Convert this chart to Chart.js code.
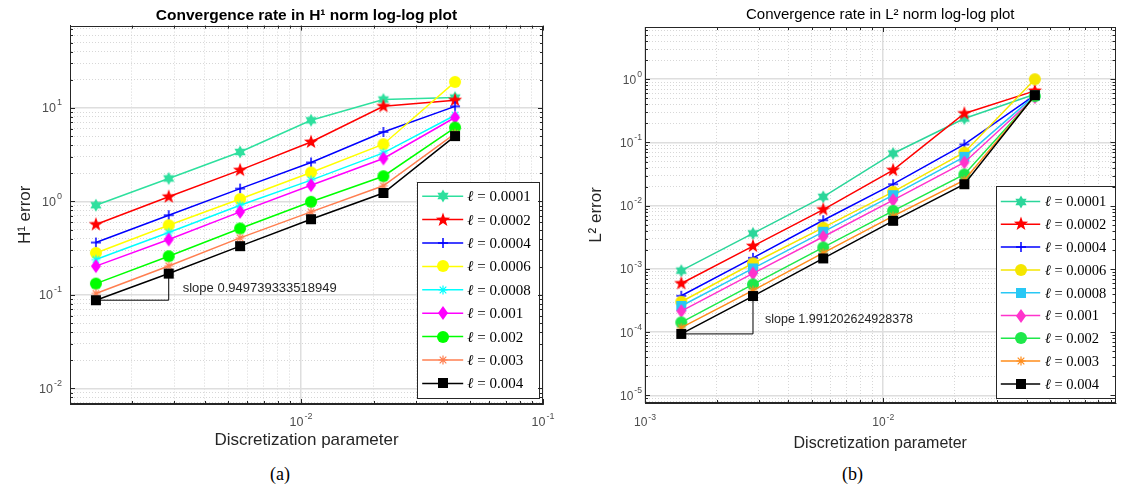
<!DOCTYPE html>
<html>
<head>
<meta charset="utf-8">
<script src="https://cdn.jsdelivr.net/npm/chart.js@4.4.0/dist/chart.umd.min.js"></script>
<style>
  body { margin: 0; background: #fff; width: 1122px; height: 490px; position: relative; overflow: hidden; }
  #wrapA { position: absolute; left: 0; top: 0; width: 560px; height: 460px; }
  #wrapB { position: absolute; left: 560px; top: 0; width: 562px; height: 460px; }
  .cap { position: absolute; top: 464px; font: 18px "Liberation Serif", serif; color: #000; }
</style>
</head>
<body>
<div id="wrapA"><canvas id="chartA" width="560" height="460"></canvas></div>
<div id="wrapB"><canvas id="chartB" width="562" height="460"></canvas></div>
<div class="cap" style="left:270px">(a)</div>
<div class="cap" style="left:842px">(b)</div>
<script>
// discretization parameter h (same for both plots)
var hVals = [0.00142, 0.00284, 0.0056, 0.011, 0.0219, 0.0433];
var ellLabels = ['0.0001', '0.0002', '0.0004', '0.0006', '0.0008', '0.001', '0.002', '0.003', '0.004'];

// H1 error, one array per ell
var h1E0001 = [0.91, 1.76, 3.38, 7.38, 12.3, 12.9];
var h1E0002 = [0.566, 1.12, 2.16, 4.32, 10.4, 12.1];
var h1E0004 = [0.363, 0.711, 1.37, 2.61, 5.53, 10.4];
var h1E0006 = [0.281, 0.556, 1.06, 2.04, 4.09, 19.0];
var h1E0008 = [0.239, 0.464, 0.91, 1.69, 3.3, 8.35];
var h1E001 = [0.203, 0.391, 0.773, 1.49, 2.88, 7.9];
var h1E002 = [0.132, 0.259, 0.513, 0.99, 1.86, 6.17];
var h1E003 = [0.1035, 0.204, 0.407, 0.773, 1.47, 5.32];
var h1E004 = [0.0877, 0.169, 0.332, 0.645, 1.23, 5.0];

// L2 error
var l2E0001 = [9.4e-4, 3.65e-3, 0.01383, 0.067, 0.239, 0.58];
var l2E0002 = [5.9e-4, 2.3e-3, 8.7e-3, 0.0365, 0.287, 0.654];
var l2E0004 = [3.77e-4, 1.5e-3, 5.9e-3, 0.0219, 0.093, 0.56];
var l2E0006 = [3.03e-4, 1.23e-3, 4.5e-3, 0.0166, 0.0695, 1.0];
var l2E0008 = [2.6e-4, 1.02e-3, 3.87e-3, 0.0147, 0.0593, 0.55];
var l2E001 = [2.16e-4, 8.5e-4, 3.23e-3, 0.01227, 0.0483, 0.52];
var l2E002 = [1.43e-4, 5.7e-4, 2.19e-3, 8.3e-3, 0.0312, 0.54];
var l2E003 = [1.18e-4, 4.6e-4, 1.8e-3, 6.85e-3, 0.0254, 0.55];
var l2E004 = [9.4e-5, 3.73e-4, 1.47e-3, 5.78e-3, 0.0219, 0.56];

var slopeA = '0.949739333518949';
var slopeB = '1.991202624928378';

var SANS = '"Liberation Sans", Arial, sans-serif';
var SERIF = '"Liberation Serif", "DejaVu Serif", serif';
Chart.defaults.font.family = SANS;

function isDecade(v) {
  var l = Math.log10(v);
  return Math.abs(l - Math.round(l)) < 1e-6;
}

// 1..9 x 10^n grid, no 1.5 ticks
function logTicks(scale) {
  var t = [];
  for (var e = Math.floor(Math.log10(scale.min)); e <= Math.ceil(Math.log10(scale.max)); e++) {
    for (var k = 1; k < 10; k++) {
      var v = k * Math.pow(10, e);
      if (v >= scale.min * 0.9999 && v <= scale.max * 1.0001) t.push({value: v, major: k === 1});
    }
  }
  scale.ticks = t;
}

// "10" with a raised exponent, y is the middle of "10"
function drawPow(ctx, v, x, y, fs, align) {
  var e = String(Math.round(Math.log10(v)));
  ctx.font = fs + 'px ' + SANS;
  var w1 = ctx.measureText('10').width;
  ctx.font = (fs * 0.72) + 'px ' + SANS;
  var w2 = ctx.measureText(e).width;
  var total = w1 + w2 + 1;
  var sx = align === 'center' ? x - total / 2 : x - total;
  ctx.textAlign = 'left';
  ctx.textBaseline = 'middle';
  ctx.font = fs + 'px ' + SANS;
  ctx.fillText('10', sx, y);
  ctx.font = (fs * 0.72) + 'px ' + SANS;
  ctx.fillText(e, sx + w1 + 1, y - fs * 0.48);
}

// matlab-like markers as small canvases
function marker(shape, color) {
  var c = document.createElement('canvas');
  c.width = 18; c.height = 18;
  var g = c.getContext('2d'), m = 9;
  g.fillStyle = color; g.strokeStyle = color; g.lineWidth = 1.3;
  g.beginPath();
  if (shape === 'hex' || shape === 'pent') {
    var n = shape === 'hex' ? 6 : 5;
    var R = shape === 'hex' ? 6.5 : 7.5;
    var r = shape === 'hex' ? R * 0.58 : R * 0.4;
    for (var i = 0; i < 2 * n; i++) {
      var a = -Math.PI / 2 + i * Math.PI / n, rr = i % 2 ? r : R;
      g.lineTo(m + rr * Math.cos(a), m + rr * Math.sin(a));
    }
    g.closePath(); g.fill();
  } else if (shape === 'plus') {
    g.lineWidth = 1.5;
    g.moveTo(m - 5, m); g.lineTo(m + 5, m);
    g.moveTo(m, m - 5); g.lineTo(m, m + 5);
    g.stroke();
  } else if (shape === 'ast') {
    g.lineWidth = 1.2;
    g.moveTo(m - 4.5, m); g.lineTo(m + 4.5, m);
    g.moveTo(m, m - 4.5); g.lineTo(m, m + 4.5);
    g.moveTo(m - 3.3, m - 3.3); g.lineTo(m + 3.3, m + 3.3);
    g.moveTo(m - 3.3, m + 3.3); g.lineTo(m + 3.3, m - 3.3);
    g.stroke();
  } else if (shape === 'circle') {
    g.arc(m, m, 6, 0, Math.PI * 2); g.fill();
  } else if (shape === 'diamond') {
    g.moveTo(m, m - 7); g.lineTo(m + 5, m); g.lineTo(m, m + 7); g.lineTo(m - 5, m);
    g.closePath(); g.fill();
  } else if (shape === 'square') {
    g.rect(m - 5, m - 5, 10, 10); g.fill();
  }
  return c;
}

var colorsA = ['#2ee09e', '#ff0000', '#0000ff', '#ffff00', '#00ffff', '#ff00ff', '#00ff00', '#ff7f50', '#000000'];
var colorsB = ['#2bd69a', '#ff0000', '#0000ff', '#f5e600', '#28c8f5', '#ff33cc', '#1ee84a', '#ff8c1a', '#000000'];
var shapesA = ['hex', 'pent', 'plus', 'circle', 'ast', 'diamond', 'circle', 'ast', 'square'];
var shapesB = ['hex', 'pent', 'plus', 'circle', 'square', 'diamond', 'circle', 'ast', 'square'];

function overlay(o) {
  return {
    id: 'overlay',
    afterDatasetsDraw: function (chart) {
      var ctx = chart.ctx, a = chart.chartArea, xs = chart.scales.x, ys = chart.scales.y;
      ctx.save();
      // slope label next to the triangle
      ctx.fillStyle = '#262626';
      ctx.font = o.slopeFont;
      ctx.textBaseline = 'middle';
      ctx.textAlign = 'left';
      ctx.fillText('slope ' + o.slope, xs.getPixelForValue(hVals[1]) + o.slopeDx, ys.getPixelForValue(o.slopeY));

      // legend box
      var L = o.legend;
      var bx = Math.round(a.right - L.right - L.w) + 0.5, by = Math.round(a.bottom - L.bottom - L.h) + 0.5;
      ctx.fillStyle = '#fff';
      ctx.fillRect(bx, by, L.w, L.h);
      ctx.strokeStyle = '#262626'; ctx.lineWidth = 1;
      ctx.strokeRect(bx, by, L.w, L.h);
      ellLabels.forEach(function (lab, i) {
        var y = by + L.first + i * L.gap;
        ctx.strokeStyle = o.colors[i]; ctx.lineWidth = 1.5;
        ctx.beginPath(); ctx.moveTo(bx + L.x0, y); ctx.lineTo(bx + L.x1, y); ctx.stroke();
        var mk = o.marks[i];
        ctx.drawImage(mk, Math.round(bx + (L.x0 + L.x1) / 2 - mk.width / 2), Math.round(y - mk.height / 2));
        ctx.fillStyle = '#000';
        ctx.font = 'italic ' + L.size + 'px ' + SERIF;
        ctx.fillText('ℓ', bx + L.tx, y + 1);
        var w = ctx.measureText('ℓ').width;
        ctx.font = L.size + 'px ' + SERIF;
        ctx.fillText(' = ' + lab, bx + L.tx + w, y + 1);
      });

      // inward ticks on all four sides
      ctx.strokeStyle = '#262626'; ctx.lineWidth = 1;
      ctx.beginPath();
      xs.ticks.forEach(function (t) {
        var p = Math.round(xs.getPixelForValue(t.value)) + 0.5, n = isDecade(t.value) ? 5 : 3;
        ctx.moveTo(p, a.bottom); ctx.lineTo(p, a.bottom - n);
        ctx.moveTo(p, a.top); ctx.lineTo(p, a.top + n);
      });
      ys.ticks.forEach(function (t) {
        var p = Math.round(ys.getPixelForValue(t.value)) + 0.5, n = isDecade(t.value) ? 5 : 3;
        ctx.moveTo(a.left, p); ctx.lineTo(a.left + n, p);
        ctx.moveTo(a.right, p); ctx.lineTo(a.right - n, p);
      });
      ctx.stroke();

      // axes box
      ctx.strokeRect(Math.round(a.left) + 0.5, Math.round(a.top) + 0.5,
        Math.round(a.right - a.left) - 1, Math.round(a.bottom - a.top) - 1);

      // decade tick labels with real superscripts
      ctx.fillStyle = '#4d4d4d';
      xs.ticks.forEach(function (t) {
        if (isDecade(t.value)) drawPow(ctx, t.value, xs.getPixelForValue(t.value), a.bottom + o.xLabDy, o.tickSize, 'center');
      });
      ys.ticks.forEach(function (t) {
        if (isDecade(t.value)) drawPow(ctx, t.value, a.left - o.yLabDx, ys.getPixelForValue(t.value) + 1, o.tickSize, 'right');
      });
      ctx.restore();
    }
  };
}

var gridOpts = {
  drawTicks: false,
  color: function (c) { return c.tick && isDecade(c.tick.value) ? '#dedede' : '#cdcdcd'; },
  lineWidth: function (c) { return c.tick && isDecade(c.tick.value) ? 1.5 : 0.8; }
};
var borderOpts = {
  display: true, color: '#262626', width: 1,
  dash: function (c) { return c.tick && !isDecade(c.tick.value) ? [1, 2] : []; }
};

function makeChart(id, o) {
  var marks = o.shapes.map(function (s, i) { return marker(s, o.colors[i]); });
  o.marks = marks;
  var datasets = o.errs.map(function (err, i) {
    return {
      label: 'ℓ = ' + ellLabels[i],
      data: hVals.map(function (h, j) { return {x: h, y: err[j]}; }),
      showLine: true,
      borderColor: o.colors[i],
      backgroundColor: o.colors[i],
      borderWidth: 1.5,
      pointStyle: marks[i],
      pointRadius: 5,
      order: -i
    };
  });
  // slope triangle between the first two points of the last series
  var last = o.errs[o.errs.length - 1];
  datasets.push({
    label: 'slope',
    data: [{x: hVals[0], y: last[0]}, {x: hVals[1], y: last[0]}, {x: hVals[1], y: last[1]}],
    showLine: true,
    borderColor: '#000',
    borderWidth: 1,
    pointRadius: 0,
    order: 1
  });

  return new Chart(document.getElementById(id), {
    type: 'scatter',
    data: {datasets: datasets},
    plugins: [overlay(o)],
    options: {
      responsive: false,
      animation: false,
      events: [],
      layout: {padding: {left: 0, right: o.padRight, top: 0, bottom: 0}},
      plugins: {
        legend: {display: false},
        tooltip: {enabled: false},
        title: {
          display: true,
          text: o.title,
          fullSize: false,
          color: '#000',
          font: {size: o.titleSize, weight: o.titleWeight},
          padding: o.titlePad
        }
      },
      scales: {
        x: {
          type: 'logarithmic',
          min: o.xMin, max: o.xMax,
          afterBuildTicks: logTicks,
          afterFit: function (s) { s.height = o.xH; },
          grid: gridOpts,
          border: borderOpts,
          ticks: {display: false, autoSkip: false},
          title: {display: true, text: 'Discretization parameter', color: '#262626',
            font: {size: o.xTitleSize}, padding: {top: 0, bottom: o.xTitlePad}}
        },
        y: {
          type: 'logarithmic',
          min: o.yMin, max: o.yMax,
          afterBuildTicks: logTicks,
          afterFit: function (s) { s.width = o.yW; },
          grid: gridOpts,
          border: borderOpts,
          ticks: {display: false, autoSkip: false},
          title: {display: true, text: o.yTitle, color: '#262626',
            font: {size: 17}, padding: {top: o.yTitlePad, bottom: 0}}
        }
      }
    }
  });
}

makeChart('chartA', {
  errs: [h1E0001, h1E0002, h1E0004, h1E0006, h1E0008, h1E001, h1E002, h1E003, h1E004],
  colors: colorsA, shapes: shapesA,
  title: 'Convergence rate in H¹ norm log-log plot', titleSize: 15.5, titleWeight: 'bold',
  titlePad: {top: 6, bottom: 1},
  yTitle: 'H¹ error', yTitlePad: 15,
  xMin: 0.00111, xMax: 0.1, yMin: 0.0068, yMax: 76,
  xH: 56, yW: 70, padRight: 17,
  tickSize: 12.5, xLabDy: 19, yLabDx: 8, xTitleSize: 17, xTitlePad: 9,
  slope: slopeA, slopeDx: 14, slopeY: 0.117, slopeFont: '13px ' + SANS,
  legend: {w: 122, h: 216, right: 4, bottom: 6, first: 13.7, gap: 23.4, x0: 4.7, x1: 45.7, tx: 49.7, size: 15}
});

makeChart('chartB', {
  errs: [l2E0001, l2E0002, l2E0004, l2E0006, l2E0008, l2E001, l2E002, l2E003, l2E004],
  colors: colorsB, shapes: shapesB,
  title: 'Convergence rate in L² norm log-log plot', titleSize: 15, titleWeight: 'normal',
  titlePad: {top: 6, bottom: 3},
  yTitle: 'L² error', yTitlePad: 26,
  xMin: 0.001, xMax: 0.0944, yMin: 7.6e-6, yMax: 6.7,
  xH: 57, yW: 85, padRight: 3,
  tickSize: 12, xLabDy: 20, yLabDx: 3, xTitleSize: 16, xTitlePad: 7,
  slope: slopeB, slopeDx: 12, slopeY: 1.6e-4, slopeFont: '12.5px ' + SANS,
  legend: {w: 119, h: 212, right: 1, bottom: 5, first: 15, gap: 22.8, x0: 4.3, x1: 43.7, tx: 48.3, size: 14.5}
});
</script>
</body>
</html>
